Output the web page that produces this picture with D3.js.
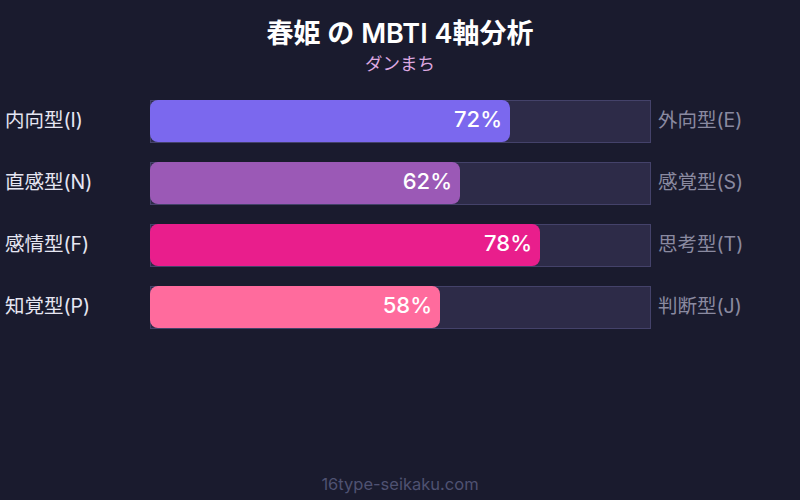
<!DOCTYPE html>
<html><head><meta charset="utf-8">
<script src="https://cdn.jsdelivr.net/npm/d3@7"></script>
<style>html,body{margin:0;padding:0;background:#1a1b2e;}svg{display:block;}</style>
</head><body>
<svg id="c" width="800" height="500"></svg>
<script>
const leftLabels = ["内向型(I)", "直感型(N)", "感情型(F)", "知覚型(P)"];
const rightLabels = ["外向型(E)", "感覚型(S)", "思考型(T)", "判断型(J)"];
const values = [72, 62, 78, 58];
const colors = ["#7b68ee", "#9b59b6", "#e91e8c", "#ff6b9d"];
const title = "春姫 の MBTI 4軸分析";
const subtitle = "ダンまち";
const footer = "16type-seikaku.com";

const font = "Inter, 'Noto Sans CJK JP', sans-serif";
const svg = d3.select("#c");
svg.append("rect").attr("width",800).attr("height",500).attr("fill","#1a1b2e");

const x = d3.scaleLinear().domain([0,100]).range([150,650]);
const y = d3.scaleBand().domain(d3.range(values.length)).range([100,328]).paddingInner(20/62).paddingOuter(0);

svg.append("text").attr("x",400).attr("y",43).attr("text-anchor","middle")
  .attr("fill","#ffffff").attr("font-family",font).attr("font-size",27).attr("font-weight",600).text(title);
svg.append("text").attr("x",400).attr("y",70).attr("text-anchor","middle")
  .attr("fill","#dda8e0").attr("font-family",font).attr("font-size",17.5).text(subtitle);

const g = svg.selectAll("g.row").data(values).join("g").attr("class","row");
g.append("rect").attr("x",x(0)+0.5).attr("y",(d,i)=>y(i)+0.5).attr("width",x(100)-x(0)).attr("height",y.bandwidth())
  .attr("fill","#2d2b48").attr("stroke","#44426a").attr("stroke-width",1);
g.append("rect").attr("x",x(0)).attr("y",(d,i)=>y(i)).attr("width",d=>x(d)-x(0)).attr("height",y.bandwidth())
  .attr("rx",8).attr("fill",(d,i)=>colors[i]);
g.append("text").attr("x",d=>x(d)-8).attr("y",(d,i)=>y(i)+y.bandwidth()/2+6).attr("text-anchor","end")
  .attr("fill","#ffffff").attr("font-family",font).attr("font-size",22).attr("font-weight",500).text(d=>d+"%");
g.append("text").attr("x",5).attr("y",(d,i)=>y(i)+y.bandwidth()/2+5.5)
  .attr("fill","#e6e6f2").attr("font-family",font).attr("font-size",19.5).text((d,i)=>leftLabels[i]);
g.append("text").attr("x",658).attr("y",(d,i)=>y(i)+y.bandwidth()/2+5.5)
  .attr("fill","#8a8aa0").attr("font-family",font).attr("font-size",19.5).text((d,i)=>rightLabels[i]);

svg.append("text").attr("x",400).attr("y",490).attr("text-anchor","middle")
  .attr("fill","#4f5272").attr("font-family",font).attr("font-size",16.5).text(footer);
</script>
</body></html>
